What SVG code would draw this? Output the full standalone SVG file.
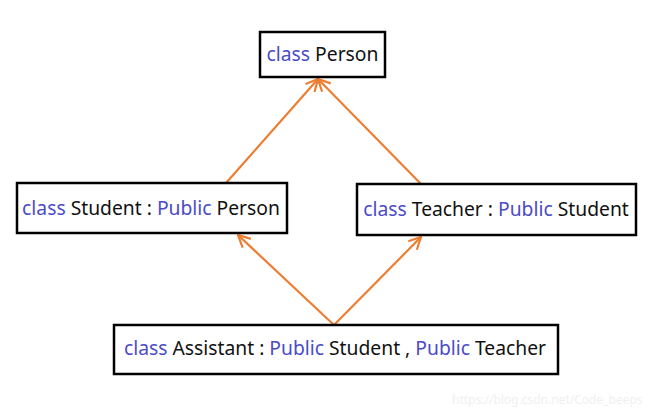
<svg xmlns="http://www.w3.org/2000/svg" width="650" height="414" viewBox="0 0 650 414">
<defs>
<marker id="ah" viewBox="0 0 14 14" refX="13" refY="7" markerWidth="14" markerHeight="14" markerUnits="userSpaceOnUse" orient="auto">
<path d="M1,1 L13,7 L1,13" fill="none" stroke="#ed7d31" stroke-width="2.2"/>
</marker>
<style>
.box{fill:#fff;stroke:#000;stroke-width:2.5}
text{font-family:"Noto Sans","Open Sans",sans-serif;font-size:19.3px;fill:#111}
.kw{fill:#4b4bc8}
.conn line{stroke:#ed7d31;stroke-width:2.2;marker-end:url(#ah)}
.wm{font-size:12px;fill:#f0f0f0}
</style>
</defs>
<rect width="650" height="414" fill="#fff"/>
<g class="conn" id="connectors">
<line x1="226" y1="183" x2="318" y2="79"/>
<line x1="421" y1="184" x2="318" y2="79"/>
<line x1="334" y1="325" x2="238" y2="235"/>
<line x1="334" y1="325" x2="421" y2="237"/>
</g>
<g id="person">
<rect class="box" x="260" y="32" width="125" height="45"/>
<text x="322.5" y="61" text-anchor="middle"><tspan class="kw">class</tspan> Person</text>
</g>
<g id="student">
<rect class="box" x="17" y="183" width="270" height="50"/>
<text x="151" y="215" text-anchor="middle"><tspan class="kw">class</tspan> Student : <tspan class="kw">Public</tspan> Person</text>
</g>
<g id="teacher">
<rect class="box" x="357" y="184" width="279" height="51"/>
<text x="496" y="216" text-anchor="middle"><tspan class="kw">class</tspan> Teacher : <tspan class="kw">Public</tspan> Student</text>
</g>
<g id="assistant">
<rect class="box" x="114" y="325" width="444" height="49"/>
<text x="335" y="355" text-anchor="middle"><tspan class="kw">class</tspan> Assistant : <tspan class="kw">Public</tspan> Student , <tspan class="kw">Public</tspan> Teacher</text>
</g>
<text class="wm" x="452" y="404">https://blog.csdn.net/Code_beeps</text>
</svg>
